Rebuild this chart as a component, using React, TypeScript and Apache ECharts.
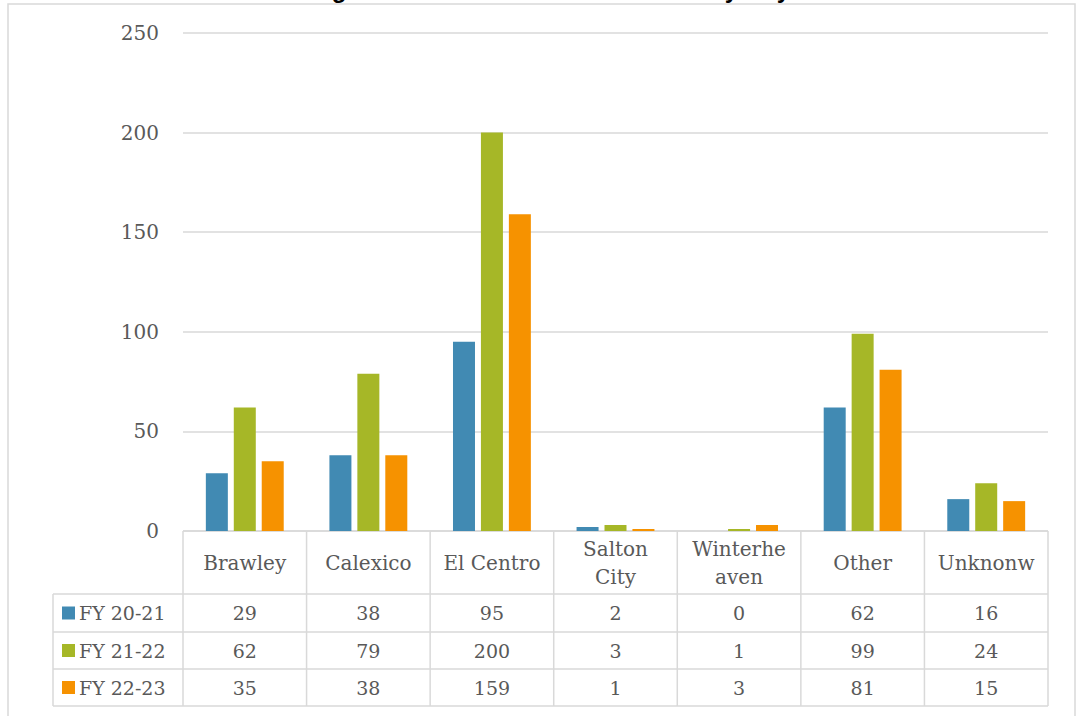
import React, { useEffect, useRef } from 'react';
import * as echarts from 'echarts';

// Chart title (sits mostly above the frame, only its descenders peek in)
const chartTitle = 'Program Referrals Received in Total by City';

// Cities (header row of the data table; line breaks follow the cell wrapping)
const categories = ['Brawley', 'Calexico', 'El Centro', 'Salton City', 'Winterheaven', 'Other', 'Unknonw'];
const headerLabels = ['Brawley', 'Calexico', 'El Centro', 'Salton\nCity', 'Winterhe\naven', 'Other', 'Unknonw'];

// Fiscal-year series
const seriesNames = ['FY 20-21', 'FY 21-22', 'FY 22-23'];
const fy2021 = [29, 38, 95, 2, 0, 62, 16];
const fy2122 = [62, 79, 200, 3, 1, 99, 24];
const fy2223 = [35, 38, 159, 1, 3, 81, 15];
const seriesValues = [fy2021, fy2122, fy2223];
const seriesColors = ['#418AB3', '#A6B727', '#F69200'];

// Value axis
const yMin = 0;
const yMax = 250;
const yStep = 50;

const W = 1082;
const H = 716;
const TEXT = '#595959';
const RULE = '#D9D9D9';
const SERIF = '"DejaVu Serif", serif';

export default function App() {
  const ref = useRef<HTMLDivElement>(null);

  useEffect(() => {
    const chart = echarts.init(ref.current!, null, { renderer: 'svg' });

    const plotLeft = 183;
    const plotRight = 1048;
    const plotTop = 33;
    const axisY = 531;

    chart.setOption({
      animation: false,
      grid: { left: plotLeft, right: W - plotRight, top: plotTop, bottom: H - axisY },
      xAxis: {
        type: 'category',
        data: categories,
        axisLine: { show: false },
        axisTick: { show: false },
        axisLabel: { show: false },
      },
      yAxis: {
        type: 'value',
        min: yMin,
        max: yMax,
        interval: yStep,
        axisLine: { show: false },
        axisTick: { show: false },
        axisLabel: { margin: 24, color: TEXT, fontFamily: SERIF, fontSize: 20 },
        splitLine: { lineStyle: { color: RULE, width: 1.5 } },
      },
      series: seriesNames.map((name, i) => ({
        name,
        type: 'bar',
        data: seriesValues[i],
        barWidth: 22,
        barGap: '27%',
        itemStyle: { color: seriesColors[i] },
      })),
    });

    // Data table under the plot
    const colW = (plotRight - plotLeft) / categories.length;
    const rowLines = [axisY, 594, 632, 669, 706];
    const keyLeft = 53;
    const centers = categories.map((c) => chart.convertToPixel({ xAxisIndex: 0 }, c) as number);

    const line = (x1: number, y1: number, x2: number, y2: number) => ({
      type: 'line',
      silent: true,
      shape: { x1, y1, x2, y2 },
      style: { stroke: RULE, lineWidth: 1.5 },
    });

    const elements: any[] = [];

    // frame of the chart area
    elements.push({
      type: 'rect',
      silent: true,
      shape: { x: 8, y: 4, width: 1067, height: 740 },
      style: { fill: 'none', stroke: RULE, lineWidth: 1.5 },
    });

    // title
    elements.push({
      type: 'text',
      silent: true,
      x: 541,
      y: -11,
      style: {
        text: chartTitle,
        align: 'center',
        verticalAlign: 'middle',
        fontFamily: '"Liberation Sans", Arial, sans-serif',
        fontWeight: 'bold',
        fontSize: 24,
        fill: '#000000',
      },
    });

    // horizontal rules
    elements.push(line(plotLeft, rowLines[0], plotRight, rowLines[0]));
    for (let r = 1; r < rowLines.length; r++) {
      elements.push(line(keyLeft, rowLines[r], plotRight, rowLines[r]));
    }
    // vertical rules
    for (let c = 0; c <= categories.length; c++) {
      const x = plotLeft + c * colW;
      elements.push(line(x, rowLines[0], x, rowLines[4]));
    }
    elements.push(line(keyLeft, rowLines[1], keyLeft, rowLines[4]));

    // header row
    const headerMid = (rowLines[0] + rowLines[1]) / 2;
    headerLabels.forEach((label, i) => {
      elements.push({
        type: 'text',
        silent: true,
        x: centers[i],
        y: headerMid,
        style: {
          text: label,
          align: 'center',
          verticalAlign: 'middle',
          fontFamily: SERIF,
          fontSize: 20,
          lineHeight: 28,
          fill: TEXT,
        },
      });
    });

    // value rows with legend keys
    seriesNames.forEach((name, s) => {
      const mid = (rowLines[s + 1] + rowLines[s + 2]) / 2;
      elements.push({
        type: 'rect',
        silent: true,
        shape: { x: 62, y: mid - 6.5, width: 13, height: 13 },
        style: { fill: seriesColors[s] },
      });
      elements.push({
        type: 'text',
        silent: true,
        x: 79,
        y: mid,
        style: {
          text: name,
          align: 'left',
          verticalAlign: 'middle',
          fontFamily: SERIF,
          fontSize: 19,
          fill: TEXT,
        },
      });
      seriesValues[s].forEach((v, i) => {
        elements.push({
          type: 'text',
          silent: true,
          x: centers[i],
          y: mid,
          style: {
            text: String(v),
            align: 'center',
            verticalAlign: 'middle',
            fontFamily: SERIF,
            fontSize: 19,
            fill: TEXT,
          },
        });
      });
    });

    chart.setOption({ graphic: { elements } });

    return () => chart.dispose();
  }, []);

  return (
    <div
      ref={ref}
      style={{ position: 'fixed', left: 0, top: 0, width: W, height: H, background: '#ffffff' }}
    />
  );
}
